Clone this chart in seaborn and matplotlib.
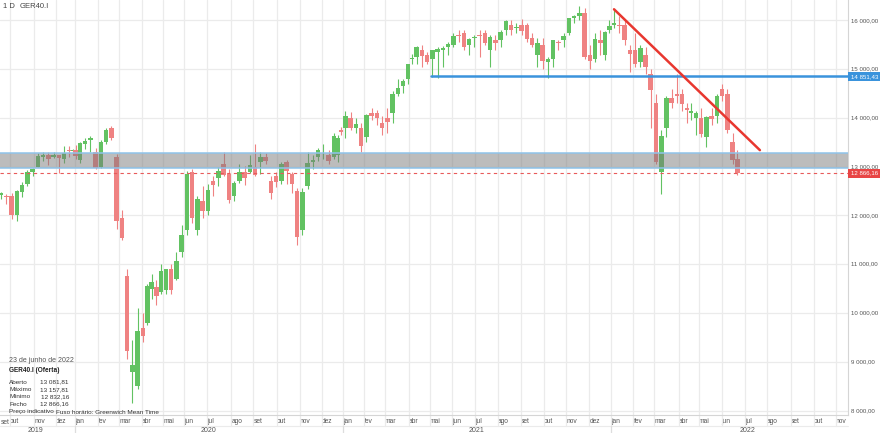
import numpy as np
import pandas as pd
import matplotlib
matplotlib.use('Agg')
import matplotlib.pyplot as plt
import seaborn as sns

first_week = '2019-09-16'

opens = (
    [12420, 12400, 12390, 12000, 12480, 12640, 12900, 13000, 13200, 13250, 13200, 13240, 13150, 13350, 13320, 13340]
    + [13130, 13470, 13550, 13300, 13000, 13500, 13790, 13200, 11950, 10750, 8800, 8500, 9700, 9800, 10500, 10530,
       10430, 10470, 10900, 10700, 11250, 11700, 12900, 11700, 12300, 12100, 12700, 12760, 13050, 12850, 12400, 12700,
       12900, 12900, 13000, 13100, 13200, 12700, 12800, 12700, 13100, 12850, 12500, 11700, 12600, 13100, 13200, 13300,
       13250, 13200, 13250, 13750]
    + [13800, 14000, 13800, 13800, 13600, 14100, 14100, 13900, 14000, 14100, 14500, 14650, 14800, 15200, 15250, 15400,
       15300, 15200, 15350, 15400, 15450, 15500, 15700, 15750, 15500, 15650, 15700, 15750, 15400, 15600, 15600, 15800,
       15900, 15850, 15900, 15900, 15650, 15300, 15500, 15150, 15200, 15550, 15600, 15750, 16050, 16100, 16150, 15300,
       15200, 15600, 15300, 15800]
    + [15900, 15900, 15900, 15400, 15400, 15150, 15300, 14900, 14300, 12900, 13800, 14400, 14500, 14500, 14200, 14100,
       14000, 14000, 13600, 14050, 14050, 14600, 14500, 13500, 13150]
)
highs = (
    [12490, 12440, 12460, 12530, 12680, 12930, 12970, 13290, 13300, 13300, 13300, 13250, 13430, 13430, 13370, 13440]
    + [13500, 13580, 13640, 13390, 13540, 13800, 13830, 13270, 12110, 10900, 9440, 10100, 10000, 10600, 10800, 10670,
       11000, 10900, 11000, 11250, 11800, 12910, 12950, 12400, 12600, 12650, 12820, 13000, 13310, 12950, 12700, 13050,
       13020, 13250, 13460, 13300, 13280, 12800, 12900, 13100, 13140, 12900, 12560, 12570, 13300, 13250, 13380, 13460,
       13350, 13700, 13650, 13820]
    + [14140, 14130, 14000, 13900, 14090, 14200, 14170, 14050, 14200, 14550, 14800, 14800, 15110, 15310, 15480, 15500,
       15350, 15400, 15450, 15480, 15550, 15750, 15800, 15800, 15650, 15700, 15800, 15800, 15700, 15700, 15800, 16000,
       16000, 15950, 16030, 15950, 15750, 15650, 15650, 15250, 15600, 15600, 15750, 16050, 16120, 16300, 16250, 15500,
       15750, 15800, 15780, 16000]
    + [16230, 16100, 16000, 15500, 15750, 15500, 15450, 15000, 14500, 13750, 14450, 14600, 14900, 14600, 14300, 14300,
       14150, 14200, 14050, 14200, 14500, 14700, 14600, 13700, 13350]
)
lows = (
    [12330, 12240, 11920, 11890, 12380, 12600, 12820, 12990, 13110, 13040, 13180, 12880, 13080, 13190, 13280, 13150]
    + [13070, 13370, 13300, 12950, 12980, 13460, 13540, 11720, 11490, 9060, 8160, 8440, 9400, 9750, 10280, 10160,
       10400, 10400, 10400, 10680, 11150, 11600, 11850, 11600, 11950, 12000, 12400, 12600, 12800, 12250, 12300, 12660,
       12630, 12880, 12800, 12850, 13050, 12340, 12580, 12650, 12650, 12460, 11400, 11600, 12550, 12950, 13120, 13150,
       13050, 13150, 13100, 13650]
    + [13580, 13750, 13700, 13310, 13500, 13950, 13850, 13650, 13700, 13900, 14450, 14520, 14700, 15100, 15100, 15040,
       15100, 14850, 14820, 15050, 15300, 15450, 15550, 15400, 15300, 15450, 15250, 15500, 15050, 15400, 15450, 15700,
       15700, 15750, 15700, 15550, 15450, 15050, 15000, 14820, 15050, 15400, 15450, 15700, 15950, 16000, 15200, 15000,
       15150, 15300, 15180, 15750]
    + [15850, 15750, 15500, 14950, 15050, 15050, 14900, 13800, 13050, 12440, 13600, 14200, 14300, 14150, 13900, 13950,
       13650, 13600, 13400, 13850, 13900, 14350, 13700, 13050, 12830]
)
closes = (
    [12470, 12380, 12010, 12510, 12630, 12890, 12960, 13230, 13240, 13160, 13240, 13170, 13280, 13320, 13340, 13220]
    + [13480, 13530, 13580, 12980, 13510, 13750, 13580, 11890, 11540, 9230, 8930, 9630, 9530, 10560, 10630, 10340,
       10860, 10900, 10470, 11070, 11590, 12850, 11950, 12330, 12090, 12530, 12630, 12920, 12840, 12310, 12670, 12900,
       12760, 13030, 12840, 13200, 13120, 12470, 12690, 13050, 12910, 12650, 11560, 12480, 13080, 13140, 13340, 13300,
       13110, 13630, 13590, 13720]
    + [14050, 13790, 13870, 13430, 14060, 14050, 13990, 13790, 13920, 14500, 14620, 14750, 15110, 15230, 15460, 15280,
       15140, 15400, 15420, 15440, 15520, 15690, 15690, 15450, 15610, 15650, 15690, 15540, 15670, 15540, 15760, 15980,
       15810, 15850, 15780, 15610, 15490, 15530, 15160, 15210, 15590, 15540, 15690, 16050, 16090, 16160, 15260, 15170,
       15620, 15530, 15760, 15880]
    + [15950, 15880, 15600, 15320, 15100, 15430, 15040, 14570, 13090, 13630, 14410, 14310, 14450, 14280, 14160, 14140,
       14100, 13670, 14030, 13980, 14460, 14460, 13760, 13130, 12870]
)

# drawn levels
zone_low, zone_high = 12968, 13276
resistance = 14851.43
last_close = 12866.16
trend_dates = ['2022-01-05', '2022-07-21']
trend_values = [16230, 13340]

# info panel of 23 June 2022
info_labels = ['Aberto', 'Máximo', 'Mínimo', 'Fecho']
info_values = ['13 081,81', '13 157,81', '12 832,16', '12 866,16']

month_names = ['jan', 'fev', 'mar', 'abr', 'mai', 'jun', 'jul', 'ago', 'set', 'out', 'nov', 'dez']
price_ticks = [8000, 9000, 10000, 11000, 12000, 13000, 14000, 15000, 16000]

# exchange holidays (no candles on these days)
holidays = ['2019-12-24', '2019-12-25', '2019-12-26', '2019-12-31', '2020-01-01', '2020-04-10', '2020-04-13',
            '2020-05-01', '2020-12-24', '2020-12-25', '2020-12-31', '2021-01-01', '2021-04-02', '2021-04-05',
            '2021-12-24', '2021-12-31', '2022-04-15', '2022-04-18']

# ── Style ─────────────────────────────────────────────────────────────────────
sns.set_theme(style='white')
plt.rcParams['font.family'] = ['Liberation Sans', 'DejaVu Sans']
GREEN, RED = '#62c262', '#ef8282'
GRID = '#ebebeb'
TXT = '#555555'

# trading-day axis
cal = pd.offsets.CustomBusinessDay(holidays=holidays)
days = pd.date_range(first_week, '2022-11-30', freq=cal)


def xpos(d):
    return days.searchsorted(pd.Timestamp(d))


week_starts = pd.date_range(first_week, periods=len(closes), freq='W-MON')
last_day = pd.Timestamp('2022-06-24')
week_x = []
for ws in week_starts:
    i0, i1 = xpos(ws), xpos(min(ws + pd.Timedelta(days=7), last_day))
    week_x.append((i0 + i1 - 1) / 2)
week_x = np.array(week_x)

o, h, l, c = map(np.array, (opens, highs, lows, closes))
colors = np.where(c >= o, GREEN, RED)

# pixel layout of the reference
x_oct19 = xpos('2019-10-01') - 0.5
px_day = (836 - 10) / (xpos('2022-11-01') - xpos('2019-10-01'))

fig = plt.figure(figsize=(8.8, 4.33), dpi=100)
ax = fig.add_axes([0, 18 / 433, 848 / 880, 415 / 433])
ax.set_xlim(x_oct19 - 10 / px_day, x_oct19 + 838 / px_day)
ax.set_ylim(7908, 16420)

# grid
months = pd.date_range('2019-10-01', '2022-11-01', freq='MS')
month_x = [xpos(m) - 0.5 for m in months]
for mx in month_x:
    ax.axvline(mx, color=GRID, lw=0.9, zorder=0)
for v in price_ticks:
    ax.axhline(v, color=GRID, lw=0.9, zorder=0)

# candles
ax.vlines(week_x, l, h, colors=colors, lw=0.8, zorder=2)
ax.bar(week_x, np.maximum(np.abs(c - o), 12), bottom=np.minimum(o, c), width=4.3,
       color=colors, linewidth=0, zorder=3)

# support zone, levels, trend line
ax.axhspan(zone_low, zone_high, color='#7a7a7a', alpha=0.5, lw=0, zorder=4)
ax.axhline(zone_high, color='#8fc3ea', lw=1.1, zorder=5)
ax.axhline(zone_low, color='#8fc3ea', lw=1.1, zorder=5)
ax.axhline(last_close, color='#e85a5a', lw=0.8, ls=(0, (3, 3)), zorder=5)
ax.plot([xpos('2021-05-04'), ax.get_xlim()[1]], [resistance, resistance],
        color='#3a93dc', lw=1.8, zorder=6)
sns.lineplot(x=[xpos(d) for d in trend_dates], y=trend_values, color='#e8372f',
             lw=1.8, ax=ax, zorder=6)

# right price scale
ax.set_yticks([])
ax.set_ylabel('')
ytr = ax.get_yaxis_transform()
for v in price_ticks:
    ax.text(1.003, v, f'{v // 1000} 000,00', transform=ytr,
            fontsize=4.4, color=TXT, va='center', ha='left', clip_on=False)
ax.text(1.003, resistance, '14 851,43', transform=ytr, fontsize=4.4,
        color='white', va='center', ha='left',
        bbox=dict(boxstyle='square,pad=0.35', fc='#3a93dc', ec='none'))
ax.text(1.003, last_close, '12 866,16', transform=ytr, fontsize=4.4,
        color='white', va='center', ha='left',
        bbox=dict(boxstyle='square,pad=0.35', fc='#e84545', ec='none'))

# month / year axis
ax.set_xticks(month_x)
ax.set_xticklabels([month_names[m.month - 1] for m in months], fontsize=4.8, color=TXT, ha='left')
ax.tick_params(axis='x', length=0, pad=2.5)
ax.text(1 / 848, -3.5 / 415, 'set', transform=ax.transAxes, fontsize=4.8, color=TXT,
        va='top', ha='left')
bx = ax.get_xaxis_transform()
for mx in month_x:
    ax.plot([mx, mx], [0, -0.026], color=GRID, lw=0.9, transform=bx, clip_on=False)
ax.plot([0, 1], [-0.027, -0.027], color=GRID, lw=0.8, transform=ax.transAxes, clip_on=False)
for yr in ['2020', '2021', '2022']:
    jx = xpos(f'{yr}-01-01') - 0.5
    ax.plot([jx, jx], [-0.027, -0.05], color='#dddddd', lw=0.9, transform=bx, clip_on=False)
year_x = [x_oct19 + 25 / px_day, xpos('2020-07-01') + 1, xpos('2021-07-01') + 1, xpos('2022-07-01') + 2]
for yx, yr in zip(year_x, ['2019', '2020', '2021', '2022']):
    ax.text(yx, -0.037, yr, transform=bx, fontsize=5, color=TXT, ha='center', va='center')

for side in ['top', 'left']:
    ax.spines[side].set_visible(False)
for side in ['right', 'bottom']:
    ax.spines[side].set_color('#d5d5d5')
    ax.spines[side].set_linewidth(0.8)


# header and info panel (pixel positions from the reference)
def px(x, y):
    return x / 848, 1 - y / 415


ax.text(*px(3, 6), '1 D', transform=ax.transAxes, fontsize=5.5, color='#444444', va='center')
ax.text(*px(20, 6), 'GER40.I', transform=ax.transAxes, fontsize=5.5, color='#444444', va='center')
ax.text(*px(9, 360), '23 de junho de 2022', transform=ax.transAxes, fontsize=5.0, color=TXT,
        va='center', zorder=8)
ax.text(*px(9, 371), 'GER40.I (Oferta)', transform=ax.transAxes, fontsize=4.7, color='#222222',
        fontweight='bold', va='center', zorder=8)
for i, (lab, val) in enumerate(zip(info_labels, info_values)):
    yy = 382 + i * 7.4
    ax.text(*px(9, yy), lab, transform=ax.transAxes, fontsize=4.6, color='#333333', va='center', zorder=8)
    ax.text(*px(69, yy), val, transform=ax.transAxes, fontsize=4.6, color='#333333', va='center',
            ha='right', zorder=8)
ax.text(*px(9, 412), 'Preço indicativo', transform=ax.transAxes, fontsize=4.6, color='#333333',
        va='center', zorder=8)
ax.text(*px(56, 412), 'Fuso horário: Greenwich Mean Time', transform=ax.transAxes, fontsize=4.6,
        color='#333333', va='center', zorder=8)

fig.savefig('out.png', dpi=100)
